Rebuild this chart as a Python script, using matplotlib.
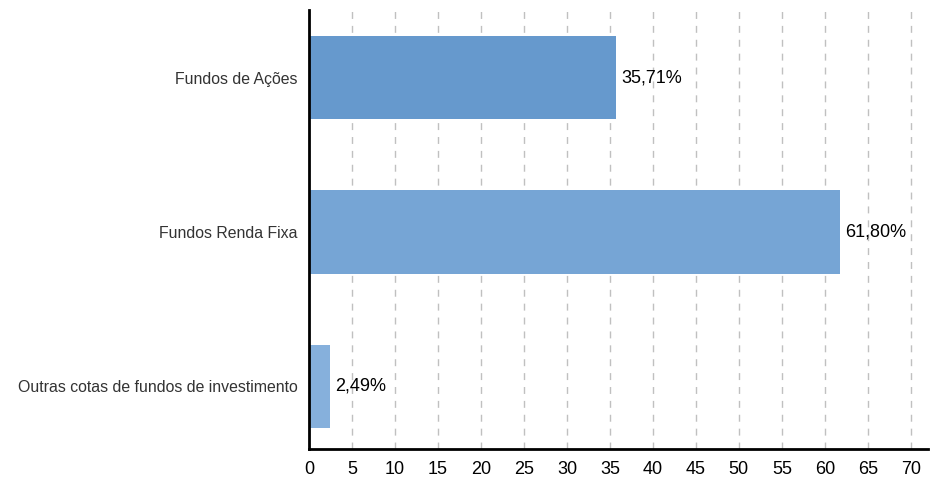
import matplotlib
matplotlib.use("Agg")
import matplotlib.pyplot as plt

plt.rcParams['font.family'] = ['Liberation Sans', 'DejaVu Sans']

categories = ["Fundos de Ações", "Fundos Renda Fixa", "Outras cotas de fundos de investimento"]
values = [35.71, 61.80, 2.49]
value_labels = ["35,71%", "61,80%", "2,49%"]
colors = ["#6699cd", "#76a5d5", "#86b0dc"]
xticks = list(range(0, 75, 5))

fig = plt.figure(figsize=(9.3, 4.78), dpi=100)
ax = fig.add_axes([0.3323, 0.0607, 0.6655, 0.9183])

ypos = list(range(len(categories)))
ax.barh(ypos, values, height=0.54, color=colors, zorder=2)

for y, v, lab in zip(ypos, values, value_labels):
    ax.text(v + 0.6, y, lab, va="center", ha="left", fontsize=13, color="black", zorder=3)

ax.set_ylim(2.405, -0.437)
ax.set_xlim(0, 72)
ax.set_yticks(ypos)
ax.set_yticklabels(categories, fontsize=11.4, color="#333333")
ax.set_xticks(xticks)
ax.set_xticklabels([str(t) for t in xticks], fontsize=13, color="black")
ax.tick_params(axis="y", length=0, pad=8)
ax.tick_params(axis="x", length=0, pad=9)

ax.grid(axis="x", color="#c0c0c0", linestyle=(0, (5, 5)), linewidth=1, zorder=0)
for s in ["top", "right"]:
    ax.spines[s].set_visible(False)
ax.spines["left"].set_linewidth(2)
ax.spines["left"].set_color("black")
ax.spines["bottom"].set_linewidth(2)
ax.spines["bottom"].set_color("black")
ax.spines["left"].set_zorder(4)

fig.savefig("out.png", dpi=100)
